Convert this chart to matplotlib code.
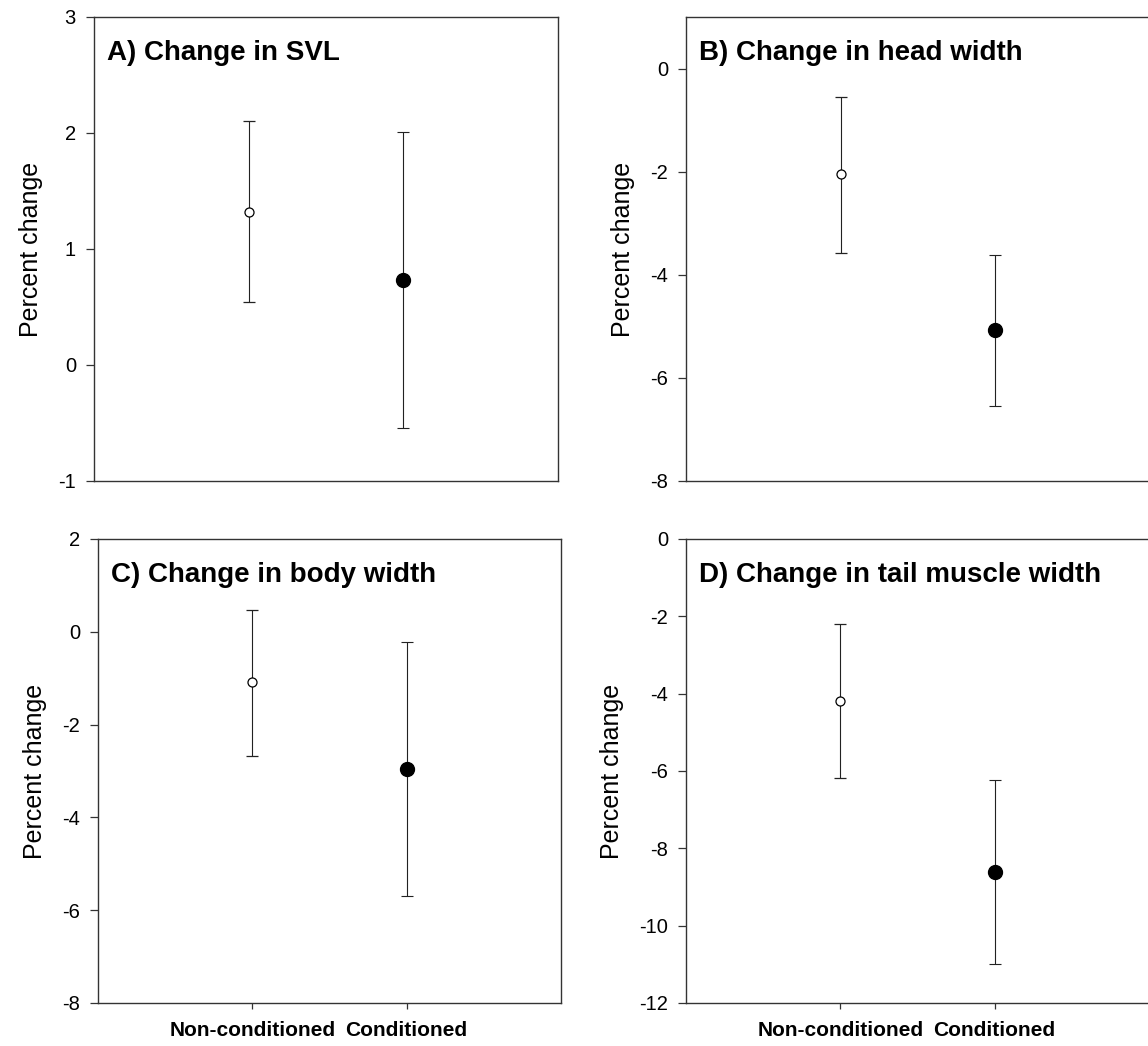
import numpy as np
import matplotlib
matplotlib.use("Agg")
import matplotlib.pyplot as plt

plt.rcParams['font.family'] = ['Liberation Sans', 'DejaVu Sans']

groups = ["Non-conditioned", "Conditioned"]

# means and lower / upper ends of the error bars
svl_mean = [1.32, 0.73]
svl_lo = [0.54, -0.54]
svl_hi = [2.10, 2.01]

head_mean = [-2.05, -5.07]
head_lo = [-3.57, -6.54]
head_hi = [-0.56, -3.61]

body_mean = [-1.09, -2.95]
body_lo = [-2.68, -5.70]
body_hi = [0.47, -0.23]

tail_mean = [-4.19, -8.61]
tail_lo = [-6.19, -10.98]
tail_hi = [-2.21, -6.22]

titles = ["A) Change in SVL", "B) Change in head width",
          "C) Change in body width", "D) Change in tail muscle width"]
ylims = [(-1, 3), (-8, 1), (-8, 2), (-12, 0)]
yticks = [np.arange(-1, 4, 1), np.arange(-8, 1, 2),
          np.arange(-8, 3, 2), np.arange(-12, 1, 2)]

panels = [(svl_mean, svl_lo, svl_hi), (head_mean, head_lo, head_hi),
          (body_mean, body_lo, body_hi), (tail_mean, tail_lo, tail_hi)]

W, H = 1148, 1046
fig = plt.figure(figsize=(W / 100, H / 100), dpi=100)

# axes boxes in pixels: left, top, width, height
boxes = [(94, 17, 464, 464), (686, 17, 464, 464),
         (98, 539, 463, 464), (686, 539, 463, 464)]

xpos = np.array([1, 2])
spine_col = "#333333"

for i, (box, (mean, lo, hi)) in enumerate(zip(boxes, panels)):
    l, t, w, h = box
    ax = fig.add_axes([l / W, 1 - (t + h) / H, w / W, h / H])
    mean = np.array(mean)
    err = [mean - np.array(lo), np.array(hi) - mean]

    # open circle: non-conditioned, filled circle: conditioned
    ax.errorbar(xpos[0], mean[0], yerr=[[err[0][0]], [err[1][0]]], fmt="o",
                ms=6.5, mfc="white", mec="black", mew=0.9, ecolor="#222222",
                elinewidth=0.8, capsize=4.2, capthick=0.8, zorder=3)
    ax.errorbar(xpos[1], mean[1], yerr=[[err[0][1]], [err[1][1]]], fmt="o",
                ms=10, mfc="black", mec="black", ecolor="#222222",
                elinewidth=0.8, capsize=4.2, capthick=0.8, zorder=3)

    ax.set_xlim(0, 3)
    ax.set_ylim(*ylims[i])
    ax.set_yticks(yticks[i])
    ax.set_yticklabels([str(v) for v in yticks[i]])
    ax.tick_params(axis="y", direction="out", length=6, width=0.9,
                   color=spine_col, labelsize=14.5, pad=7)
    ax.set_ylabel("Percent change", fontsize=18, labelpad=11)

    if i < 2:
        ax.tick_params(axis="x", bottom=False, labelbottom=False)
    else:
        ax.set_xticks(xpos)
        ax.set_xticklabels(groups, fontsize=15, fontweight="bold")
        ax.tick_params(axis="x", direction="out", length=4, width=0.9,
                       color=spine_col, pad=9)

    for s in ax.spines.values():
        s.set_color(spine_col)
        s.set_linewidth(1.0)

    ax.text(0.027, 0.907, titles[i], transform=ax.transAxes, fontsize=20,
            fontweight="bold", ha="left", va="baseline")

fig.savefig("out.png", dpi=100)
